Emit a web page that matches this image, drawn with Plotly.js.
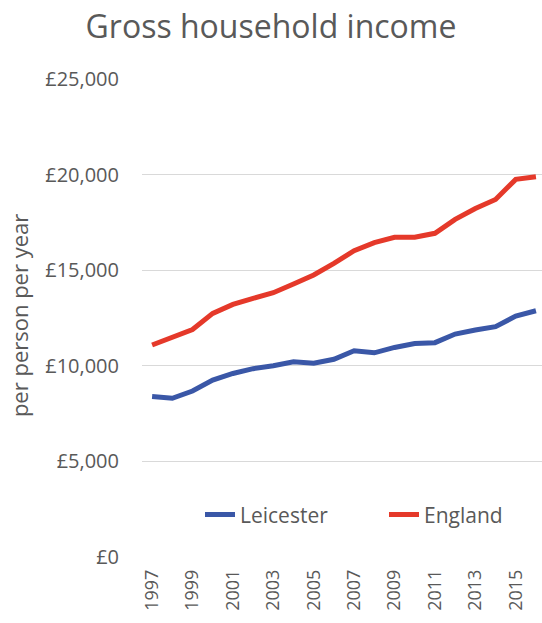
<!DOCTYPE html>
<html>
<head>
<meta charset="utf-8">
<script src="https://cdn.plot.ly/plotly-3.0.1.min.js"></script>
<style>html,body{margin:0;padding:0;background:#fff;}#chart{width:542px;height:623px;}</style>
</head>
<body>
<div id="chart"></div>
<script>
var years = [1997,1998,1999,2000,2001,2002,2003,2004,2005,2006,2007,2008,2009,2010,2011,2012,2013,2014,2015,2016];
var leicester = [8390,8300,8680,9250,9600,9850,10000,10210,10140,10340,10790,10680,10960,11170,11210,11660,11870,12050,12600,12880];
var england = [11090,11520,11900,12740,13210,13530,13820,14280,14750,15360,16020,16440,16720,16720,16930,17660,18230,18700,19750,19890];
var tickYears = [1997,1999,2001,2003,2005,2007,2009,2011,2013,2015];
var yTicks = [0,5000,10000,15000,20000,25000];
var yTickText = ['£0','£5,000','£10,000','£15,000','£20,000','£25,000'];

var font = '"Open Sans", sans-serif';
var traces = [
  {x: years, y: leicester, name: 'Leicester', type: 'scatter', mode: 'lines', legend: 'legend',
   line: {color: '#3a57a7', width: 5}},
  {x: years, y: england, name: 'England', type: 'scatter', mode: 'lines', legend: 'legend2',
   line: {color: '#e5392a', width: 5}}
];
var legendCommon = {orientation: 'h', y: 0.088, xanchor: 'left', yanchor: 'middle',
                    bgcolor: 'rgba(0,0,0,0)', font: {size: 21, color: '#595959', family: font}};
var layout = {
  width: 542, height: 623,
  margin: {l: 142, r: 0, t: 79, b: 66},
  paper_bgcolor: '#fff', plot_bgcolor: '#fff',
  font: {family: font, color: '#595959', size: 17},
  title: {text: 'Gross household income', font: {size: 32, color: '#595959', family: font},
          x: 0.5, xanchor: 'center', y: 0.957, yanchor: 'middle'},
  xaxis: {range: [1996.5, 2016.3], tickmode: 'array', tickvals: tickYears, ticktext: tickYears.map(String),
          tickangle: -90, showgrid: false, zeroline: false, showline: false, ticks: '',
          ticklabelstandoff: 8, automargin: false,
          tickfont: {size: 18, color: '#595959'}},
  yaxis: {range: [0, 25000], tickmode: 'array', tickvals: yTicks, ticktext: yTickText,
          showgrid: true, gridcolor: '#d9d9d9', gridwidth: 1.3, zeroline: false, showline: false,
          ticks: '', ticklen: 0, ticklabelstandoff: 22, automargin: false,
          tickfont: {size: 20, color: '#595959'}},
  annotations: [{text: 'per person per year', textangle: -90, xref: 'paper', yref: 'paper',
                 x: -0.3075, y: 0.504, xanchor: 'center', yanchor: 'middle', showarrow: false,
                 font: {size: 22, color: '#595959', family: font}}],
  legend: Object.assign({}, legendCommon, {x: 0.145}),
  legend2: Object.assign({}, legendCommon, {x: 0.605}),
  showlegend: true
};
Plotly.newPlot('chart', traces, layout, {displayModeBar: false, staticPlot: true});
</script>
</body>
</html>
